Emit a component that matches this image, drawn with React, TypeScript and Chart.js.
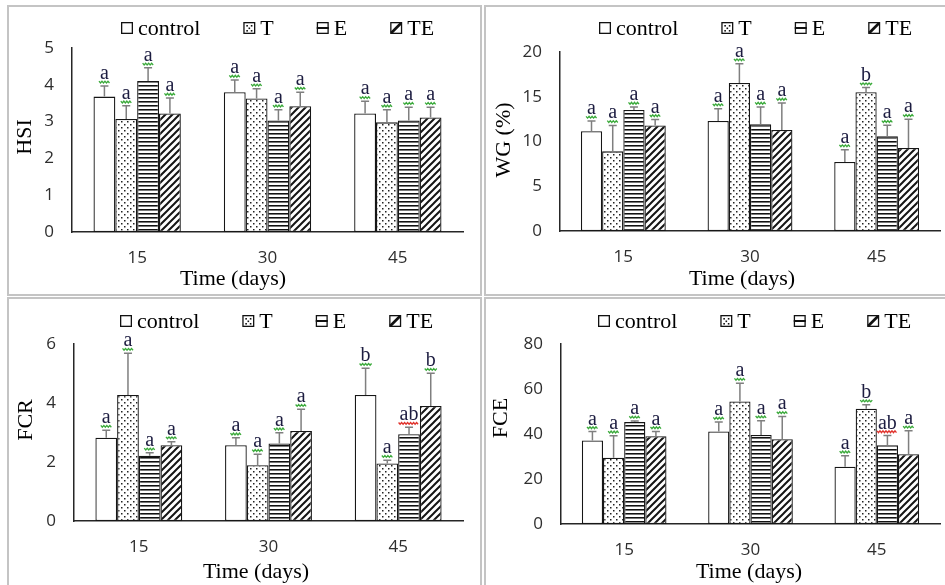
import React, { useEffect, useRef } from 'react';
import { Chart, registerables } from 'chart.js';

Chart.register(...registerables);

// ---------- data ----------
const categories = ['15', '30', '45'];
const seriesNames = ['control', 'T', 'E', 'TE'];
const xTitle = 'Time (days)';

// rows: control, T, E, TE ; columns: 15, 30, 45 days
const hsiMeans = [
  [3.68, 3.8, 3.22],
  [3.07, 3.63, 2.98],
  [4.1, 3.03, 3.03],
  [3.22, 3.42, 3.11],
];
const hsiSd = [
  [0.29, 0.33, 0.33],
  [0.36, 0.26, 0.34],
  [0.36, 0.29, 0.36],
  [0.42, 0.38, 0.28],
];
const hsiLetters = [
  ['a', 'a', 'a'],
  ['a', 'a', 'a'],
  ['a', 'a', 'a'],
  ['a', 'a', 'a'],
];
const hsiTicks = [0, 1, 2, 3, 4, 5];

const wgMeans = [
  [11.14, 12.29, 7.71],
  [8.9, 16.54, 15.5],
  [13.52, 11.92, 10.58],
  [11.78, 11.28, 9.27],
];
const wgSd = [
  [1.15, 1.38, 1.38],
  [2.9, 2.16, 0.52],
  [0.33, 1.93, 1.23],
  [0.67, 3.02, 3.21],
];
const wgLetters = [
  ['a', 'a', 'a'],
  ['a', 'a', 'b'],
  ['a', 'a', 'a'],
  ['a', 'a', 'a'],
];
const wgTicks = [0, 5, 10, 15, 20];

const fcrMeans = [
  [2.82, 2.57, 4.27],
  [4.27, 1.89, 1.95],
  [2.21, 2.63, 2.94],
  [2.57, 3.05, 3.9],
];
const fcrSd = [
  [0.26, 0.25, 0.91],
  [1.42, 0.37, 0.11],
  [0.1, 0.36, 0.24],
  [0.12, 0.74, 1.11],
];
const fcrLetters = [
  ['a', 'a', 'b'],
  ['a', 'a', 'a'],
  ['a', 'a', 'ab'],
  ['a', 'a', 'b'],
];
const fcrTicks = [0, 2, 4, 6];

const fceMeans = [
  [37.1, 41.1, 25.5],
  [29.5, 54.5, 51.2],
  [45.3, 39.6, 35.0],
  [39.0, 37.7, 31.0],
];
const fceSd = [
  [4.0, 4.2, 4.8],
  [9.7, 8.1, 1.8],
  [0.5, 6.3, 4.3],
  [2.1, 10.1, 10.4],
];
const fceLetters = [
  ['a', 'a', 'a'],
  ['a', 'a', 'b'],
  ['a', 'a', 'ab'],
  ['a', 'a', 'a'],
];
const fceTicks = [0, 20, 40, 60, 80];

// ---------- layout ----------
type Spec = {
  left: number; top: number; width: number; height: number;
  pad: { left: number; right: number; top: number; bottom: number };
  yTitle: string; yTitlePos: [number, number]; xTitlePos: [number, number];
  legendPos: [number, number];
  means: number[][]; sd: number[][]; letters: string[][]; ticks: number[];
};

const panels: Spec[] = [
  {
    left: 0, top: 0, width: 482, height: 296,
    pad: { left: 22, right: 19, top: 48, bottom: 24 },
    yTitle: 'HSI', yTitlePos: [25, 137], xTitlePos: [233, 279], legendPos: [121, 28],
    means: hsiMeans, sd: hsiSd, letters: hsiLetters, ticks: hsiTicks,
  },
  {
    left: 483, top: 0, width: 462, height: 296,
    pad: { left: 27, right: 5, top: 52, bottom: 25 },
    yTitle: 'WG (%)', yTitlePos: [21, 140], xTitlePos: [259, 279], legendPos: [116, 28],
    means: wgMeans, sd: wgSd, letters: wgLetters, ticks: wgTicks,
  },
  {
    left: 0, top: 296, width: 482, height: 289,
    pad: { left: 24, right: 19, top: 48, bottom: 24 },
    yTitle: 'FCR', yTitlePos: [26, 124], xTitlePos: [256, 276], legendPos: [120, 25],
    means: fcrMeans, sd: fcrSd, letters: fcrLetters, ticks: fcrTicks,
  },
  {
    left: 483, top: 296, width: 462, height: 289,
    pad: { left: 28, right: 5, top: 48, bottom: 21 },
    yTitle: 'FCE', yTitlePos: [18, 122], xTitlePos: [266, 276], legendPos: [115, 25],
    means: fceMeans, sd: fceSd, letters: fceLetters, ticks: fceTicks,
  },
];

const SERIF = '"Liberation Serif", "Times New Roman", serif';
const SANS = '"Open Sans", "Liberation Sans", sans-serif';

function makePatterns(): (CanvasPattern | string)[] {
  const mk = (w: number, h: number, draw: (g: CanvasRenderingContext2D) => void) => {
    const c = document.createElement('canvas');
    c.width = w; c.height = h;
    const g = c.getContext('2d')!;
    g.fillStyle = '#ffffff';
    g.fillRect(0, 0, w, h);
    draw(g);
    const p = g.createPattern(c, 'repeat');
    return p || '#ffffff';
  };
  const dots = mk(6, 6, (g) => {
    g.fillStyle = '#222222';
    g.fillRect(1, 1, 1.5, 1.5);
    g.fillRect(4, 4, 1.5, 1.5);
  });
  const hlines = mk(4, 4, (g) => {
    g.fillStyle = '#111111';
    g.fillRect(0, 1, 4, 1);
    g.fillStyle = '#777777';
    g.fillRect(0, 2, 4, 1);
  });
  const diag = mk(7, 7, (g) => {
    g.strokeStyle = '#151515';
    g.lineWidth = 2;
    g.beginPath();
    g.moveTo(-1, 8); g.lineTo(8, -1);
    g.moveTo(-1, 1); g.lineTo(1, -1);
    g.moveTo(6, 8); g.lineTo(8, 6);
    g.stroke();
  });
  return ['#ffffff', dots, hlines, diag];
}

function drawSquiggle(ctx: CanvasRenderingContext2D, x0: number, x1: number, y: number, color: string) {
  ctx.save();
  ctx.strokeStyle = color;
  ctx.lineWidth = 1.3;
  ctx.setLineDash([]);
  ctx.beginPath();
  let k = 0;
  for (let x = x0; x <= x1 + 0.01; x += 1.5, k++) {
    const yy = y + (k % 2 === 0 ? -0.9 : 0.9);
    if (k === 0) ctx.moveTo(x, yy); else ctx.lineTo(x, yy);
  }
  ctx.stroke();
  ctx.restore();
}

function drawLegendBox(ctx: CanvasRenderingContext2D, i: number, x: number, y: number, s: number) {
  ctx.save();
  ctx.fillStyle = '#ffffff';
  ctx.fillRect(x, y, s, s);
  ctx.fillStyle = '#111111';
  ctx.strokeStyle = '#111111';
  if (i === 1) {
    const pts = [[3, 3], [7.5, 3], [5.2, 5.5], [3, 8], [7.5, 8]];
    pts.forEach(([px, py]) => ctx.fillRect(x + px, y + py, 1.6, 1.6));
  } else if (i === 2) {
    ctx.fillRect(x, y + s / 2 - 1, s, 2);
  } else if (i === 3) {
    ctx.lineWidth = 2.6;
    ctx.beginPath();
    ctx.moveTo(x + 1, y + s - 1);
    ctx.lineTo(x + s - 1, y + 1);
    ctx.stroke();
  }
  ctx.lineWidth = 1.3;
  ctx.strokeRect(x + 0.65, y + 0.65, s - 1.3, s - 1.3);
  ctx.restore();
}

function makeExtras(spec: Spec) {
  return {
    id: 'extras',
    afterDatasetsDraw(chart: any) {
      const ctx: CanvasRenderingContext2D = chart.ctx;
      const ys = chart.scales.y;
      ctx.save();
      spec.means.forEach((row, i) => {
        const meta = chart.getDatasetMeta(i);
        meta.data.forEach((bar: any, j: number) => {
          const x = bar.x;
          const yBar = bar.y;
          const yTop = ys.getPixelForValue(row[j] + spec.sd[i][j]);
          ctx.strokeStyle = '#7f7f7f';
          ctx.lineWidth = 1.5;
          ctx.setLineDash([]);
          ctx.beginPath();
          ctx.moveTo(x, yBar);
          ctx.lineTo(x, yTop);
          ctx.moveTo(x - 4, yTop);
          ctx.lineTo(x + 4, yTop);
          ctx.stroke();
          const txt = spec.letters[i][j];
          ctx.font = '20px ' + SERIF;
          ctx.fillStyle = '#1c1c40';
          ctx.textAlign = 'center';
          ctx.textBaseline = 'alphabetic';
          ctx.fillText(txt, x, yTop - 7);
          const w = ctx.measureText(txt).width;
          drawSquiggle(ctx, x - w / 2 - 1, x + w / 2 + 1, yTop - 3.8, txt.length > 1 ? '#e0312b' : '#3aaa3a');
        });
      });
      ctx.restore();
    },
    afterDraw(chart: any) {
      const ctx: CanvasRenderingContext2D = chart.ctx;
      ctx.save();
      // legend
      ctx.font = '22px ' + SERIF;
      ctx.textBaseline = 'middle';
      ctx.textAlign = 'left';
      ctx.fillStyle = '#000000';
      let x = spec.legendPos[0];
      const cy = spec.legendPos[1];
      seriesNames.forEach((name, i) => {
        drawLegendBox(ctx, i, x, cy - 6, 12);
        ctx.fillText(name, x + 17, cy + 1);
        x += 17 + ctx.measureText(name).width + 43;
      });
      // axis titles
      ctx.textAlign = 'center';
      ctx.fillText(xTitle, spec.xTitlePos[0], spec.xTitlePos[1]);
      ctx.translate(spec.yTitlePos[0], spec.yTitlePos[1]);
      ctx.rotate(-Math.PI / 2);
      ctx.fillText(spec.yTitle, 0, 0);
      ctx.restore();
    },
  };
}

function Panel({ spec }: { spec: Spec }) {
  const ref = useRef<HTMLCanvasElement>(null);
  useEffect(() => {
    const canvas = ref.current;
    if (!canvas) return;
    const fills = makePatterns();
    const t = spec.ticks;
    const chart = new Chart(canvas, {
      type: 'bar',
      data: {
        labels: categories,
        datasets: seriesNames.map((name, i) => ({
          label: name,
          data: spec.means[i],
          backgroundColor: fills[i] as any,
          borderColor: '#161616',
          borderWidth: 1.3,
          borderSkipped: false,
          barPercentage: 1,
          categoryPercentage: 0.67,
        })),
      },
      options: {
        animation: false,
        responsive: false,
        events: [],
        layout: { padding: spec.pad },
        plugins: { legend: { display: false }, tooltip: { enabled: false }, title: { display: false } },
        scales: {
          x: {
            grid: { display: false, drawTicks: false },
            border: { display: true, color: '#262626', width: 1.5 },
            ticks: { font: { family: SANS, size: 17 }, color: '#2e2e2e', padding: 16 },
            afterFit: (s: any) => { s.height = 40; },
          },
          y: {
            min: t[0],
            max: t[t.length - 1],
            grid: { display: false, drawTicks: false },
            border: { display: true, color: '#262626', width: 1.5 },
            ticks: { stepSize: t[1] - t[0], font: { family: SANS, size: 17 }, color: '#2e2e2e', padding: 18 },
            afterFit: (s: any) => { s.width = 50; },
          },
        },
      } as any,
      plugins: [makeExtras(spec) as any],
    });
    return () => chart.destroy();
  }, [spec]);
  return (
    <canvas
      ref={ref}
      width={spec.width}
      height={spec.height}
      style={{ position: 'absolute', left: spec.left, top: spec.top, width: spec.width, height: spec.height, display: 'block' }}
    />
  );
}

const borderBoxes = [
  { left: 7, top: 5, width: 475, height: 291 },
  { left: 484, top: 5, width: 470, height: 291 },
  { left: 7, top: 297, width: 475, height: 300 },
  { left: 484, top: 297, width: 470, height: 300 },
];

export default function App() {
  return (
    <div style={{ position: 'absolute', left: 0, top: 0, width: 945, height: 585, overflow: 'hidden', background: '#ffffff' }}>
      {borderBoxes.map((b, i) => (
        <div
          key={'b' + i}
          style={{ position: 'absolute', left: b.left, top: b.top, width: b.width, height: b.height, border: '2px solid #c4c4c4', boxSizing: 'border-box' }}
        />
      ))}
      {panels.map((p, i) => (
        <Panel key={i} spec={p} />
      ))}
    </div>
  );
}
